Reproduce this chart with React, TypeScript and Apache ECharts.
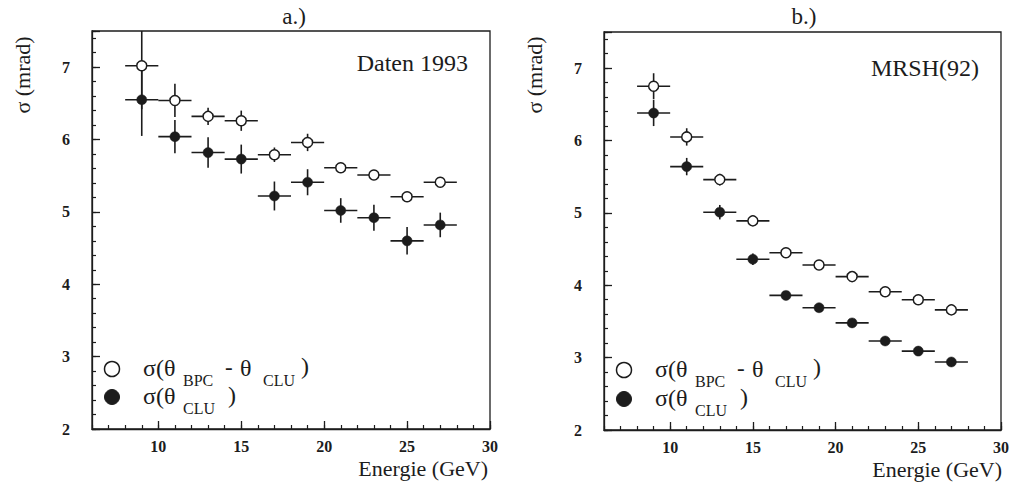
import React, { useEffect, useRef } from 'react';
import * as echarts from 'echarts';

// Energy bin centres (GeV), bin half-width 1 GeV
const energies = [9, 11, 13, 15, 17, 19, 21, 23, 25, 27];
const binHalfWidth = 1;

// Panel a.) Daten 1993
const aOpen = [7.02, 6.54, 6.32, 6.26, 5.79, 5.96, 5.61, 5.51, 5.21, 5.41];
const aOpenErr = [0.6, 0.23, 0.12, 0.14, 0.1, 0.12, 0.05, 0.05, 0.05, 0.05];
const aFilled = [6.55, 6.04, 5.82, 5.73, 5.22, 5.41, 5.02, 4.92, 4.6, 4.82];
const aFilledErr = [0.5, 0.23, 0.21, 0.2, 0.2, 0.18, 0.17, 0.18, 0.19, 0.17];

// Panel b.) MRSH(92)
const bOpen = [6.75, 6.05, 5.46, 4.89, 4.45, 4.28, 4.12, 3.91, 3.8, 3.66];
const bOpenErr = [0.18, 0.12, 0.08, 0.05, 0.04, 0.03, 0.03, 0.03, 0.03, 0.03];
const bFilled = [6.38, 5.64, 5.01, 4.36, 3.86, 3.69, 3.48, 3.23, 3.09, 2.94];
const bFilledErr = [0.18, 0.12, 0.1, 0.08, 0.06, 0.05, 0.04, 0.04, 0.04, 0.04];

const xMajorTicks = [10, 15, 20, 25, 30];
const panelTitles = ['a.)', 'b.)'];
const panelLabels = ['Daten 1993', 'MRSH(92)'];
const xName = 'Energie (GeV)';
const yName = 'σ (mrad)';

const X_MIN = 6, X_MAX = 30, Y_MIN = 2, Y_MAX = 7.5;
const INK = '#1c1c1c';
const SERIF = '"Liberation Serif", "DejaVu Serif", serif';

const grids = [
  { left: 92, top: 31, width: 398, height: 398 },
  { left: 604, top: 32, width: 400, height: 398 },
];

function errorBarSeries(gi: number, ys: number[], errs: number[]) {
  return {
    type: 'custom',
    xAxisIndex: gi * 2,
    yAxisIndex: gi * 2,
    z: 2,
    clip: true,
    encode: { x: 0, y: 1 },
    data: energies.map((x, i) => [x, ys[i], errs[i]]),
    renderItem: (_params: any, api: any) => {
      const x = api.value(0);
      const y = api.value(1);
      const e = api.value(2);
      const l = api.coord([x - binHalfWidth, y]);
      const r = api.coord([x + binHalfWidth, y]);
      const t = api.coord([x, Math.min(y + e, Y_MAX)]);
      const b = api.coord([x, Math.max(y - e, Y_MIN)]);
      const style = { stroke: INK, lineWidth: 1.6 };
      return {
        type: 'group',
        children: [
          { type: 'line', shape: { x1: l[0], y1: l[1], x2: r[0], y2: r[1] }, style },
          { type: 'line', shape: { x1: t[0], y1: t[1], x2: b[0], y2: b[1] }, style },
        ],
      };
    },
  };
}

function markerSeries(gi: number, ys: number[], open: boolean) {
  return {
    type: 'scatter',
    xAxisIndex: gi * 2,
    yAxisIndex: gi * 2,
    z: 3,
    symbol: 'circle',
    symbolSize: 10,
    itemStyle: open
      ? { color: '#ffffff', borderColor: INK, borderWidth: 1.5, opacity: 1 }
      : { color: INK, borderColor: INK, borderWidth: 0.5, opacity: 1 },
    data: energies.map((x, i) => [x, ys[i]]),
  };
}

function axesFor(gi: number) {
  const tickLabel = {
    fontFamily: SERIF,
    fontWeight: 'bold' as const,
    fontSize: 16,
    color: INK,
  };
  const xAxes = [
    {
      type: 'value', gridIndex: gi, position: 'bottom', min: X_MIN, max: X_MAX,
      axisLine: { show: true, lineStyle: { color: INK, width: 1.3 } },
      axisTick: { show: true, inside: true, length: 8, customValues: xMajorTicks, lineStyle: { color: INK, width: 1.3 } },
      axisLabel: { show: true, customValues: xMajorTicks, margin: 9, ...tickLabel },
      splitLine: { show: false },
    },
    {
      type: 'value', gridIndex: gi, position: 'bottom', min: X_MIN, max: X_MAX, interval: 1,
      axisLine: { show: false },
      axisTick: { show: true, inside: true, length: 4, lineStyle: { color: INK, width: 1.2 } },
      axisLabel: { show: false },
      splitLine: { show: false },
    },
  ];
  const yAxes = [
    {
      type: 'value', gridIndex: gi, position: 'left', min: Y_MIN, max: Y_MAX, interval: 1,
      axisLine: { show: true, lineStyle: { color: INK, width: 1.3 } },
      axisTick: { show: true, inside: true, length: 8, lineStyle: { color: INK, width: 1.3 } },
      axisLabel: {
        show: true, margin: 22, ...tickLabel,
        formatter: (v: number) => (Number.isInteger(v) ? String(v) : ''),
      },
      splitLine: { show: false },
    },
    {
      type: 'value', gridIndex: gi, position: 'left', min: Y_MIN, max: Y_MAX, interval: 0.2,
      axisLine: { show: false },
      axisTick: { show: true, inside: true, length: 4, lineStyle: { color: INK, width: 1.2 } },
      axisLabel: { show: false },
      splitLine: { show: false },
    },
  ];
  return { xAxes, yAxes };
}

function txt(text: string, x: number, y: number, size: number, align = 'left', extra: any = {}) {
  return {
    type: 'text',
    x,
    y,
    silent: true,
    ...extra,
    style: {
      text,
      fill: INK,
      fontFamily: SERIF,
      fontSize: size,
      textAlign: align,
      textVerticalAlign: 'middle',
    },
  };
}

function panelGraphics(gi: number) {
  const g = grids[gi];
  const L = g.left;
  const R = g.left + g.width;
  const els: any[] = [];
  // title
  els.push(txt(panelTitles[gi], L + g.width / 2 + (gi === 0 ? 3 : 0), 16, 23, 'center'));
  // inner label
  els.push(txt(panelLabels[gi], R - (gi === 0 ? 22 : 25), gi === 0 ? 63 : 68, 24, 'right'));
  // x axis name
  els.push(txt(xName, R - 2, gi === 0 ? 468 : 469, 22, 'right'));
  // y axis name (rotated)
  els.push(txt(yName, L - 70, 75, 22, 'center', { rotation: Math.PI / 2 }));
  // legend markers
  const yl1 = gi === 0 ? 369 : 370;
  const yl2 = gi === 0 ? 397 : 399;
  els.push({ type: 'circle', shape: { cx: L + 20, cy: yl1, r: 7.5 }, style: { fill: '#fff', stroke: INK, lineWidth: 1.5 } });
  els.push({ type: 'circle', shape: { cx: L + 20, cy: yl2, r: 7.5 }, style: { fill: INK, stroke: INK, lineWidth: 1 } });
  // legend line 1: σ(θ BPC - θ CLU )
  els.push(txt('σ(θ', L + 51, yl1 - 1, 24));
  els.push(txt('BPC', L + 91, yl1 + 11, 16));
  els.push(txt('-', L + 133, yl1 - 2, 23));
  els.push(txt('θ', L + 148, yl1 - 1, 24));
  els.push(txt('CLU', L + 171, yl1 + 11, 16));
  els.push(txt(')', L + 209, yl1 - 3, 24));
  // legend line 2: σ(θ CLU )
  els.push(txt('σ(θ', L + 51, yl2 - 1, 24));
  els.push(txt('CLU', L + 91, yl2 + 11, 16));
  els.push(txt(')', L + 136, yl2 - 2, 24));
  return els;
}

export default function App() {
  const ref = useRef<HTMLDivElement>(null);
  useEffect(() => {
    document.body.style.margin = '0';
    const chart = echarts.init(ref.current!, null, { renderer: 'svg' });
    const a = axesFor(0);
    const b = axesFor(1);
    const option: any = {
      animation: false,
      backgroundColor: '#ffffff',
      grid: grids.map((g) => ({
        ...g,
        show: true,
        borderColor: INK,
        borderWidth: 1.3,
        backgroundColor: 'transparent',
        containLabel: false,
      })),
      xAxis: [...a.xAxes, ...b.xAxes],
      yAxis: [...a.yAxes, ...b.yAxes],
      series: [
        errorBarSeries(0, aOpen, aOpenErr),
        errorBarSeries(0, aFilled, aFilledErr),
        markerSeries(0, aOpen, true),
        markerSeries(0, aFilled, false),
        errorBarSeries(1, bOpen, bOpenErr),
        errorBarSeries(1, bFilled, bFilledErr),
        markerSeries(1, bOpen, true),
        markerSeries(1, bFilled, false),
      ],
      graphic: { elements: [...panelGraphics(0), ...panelGraphics(1)] },
    };
    chart.setOption(option);
    return () => chart.dispose();
  }, []);
  return <div ref={ref} style={{ width: 1012, height: 488 }} />;
}
